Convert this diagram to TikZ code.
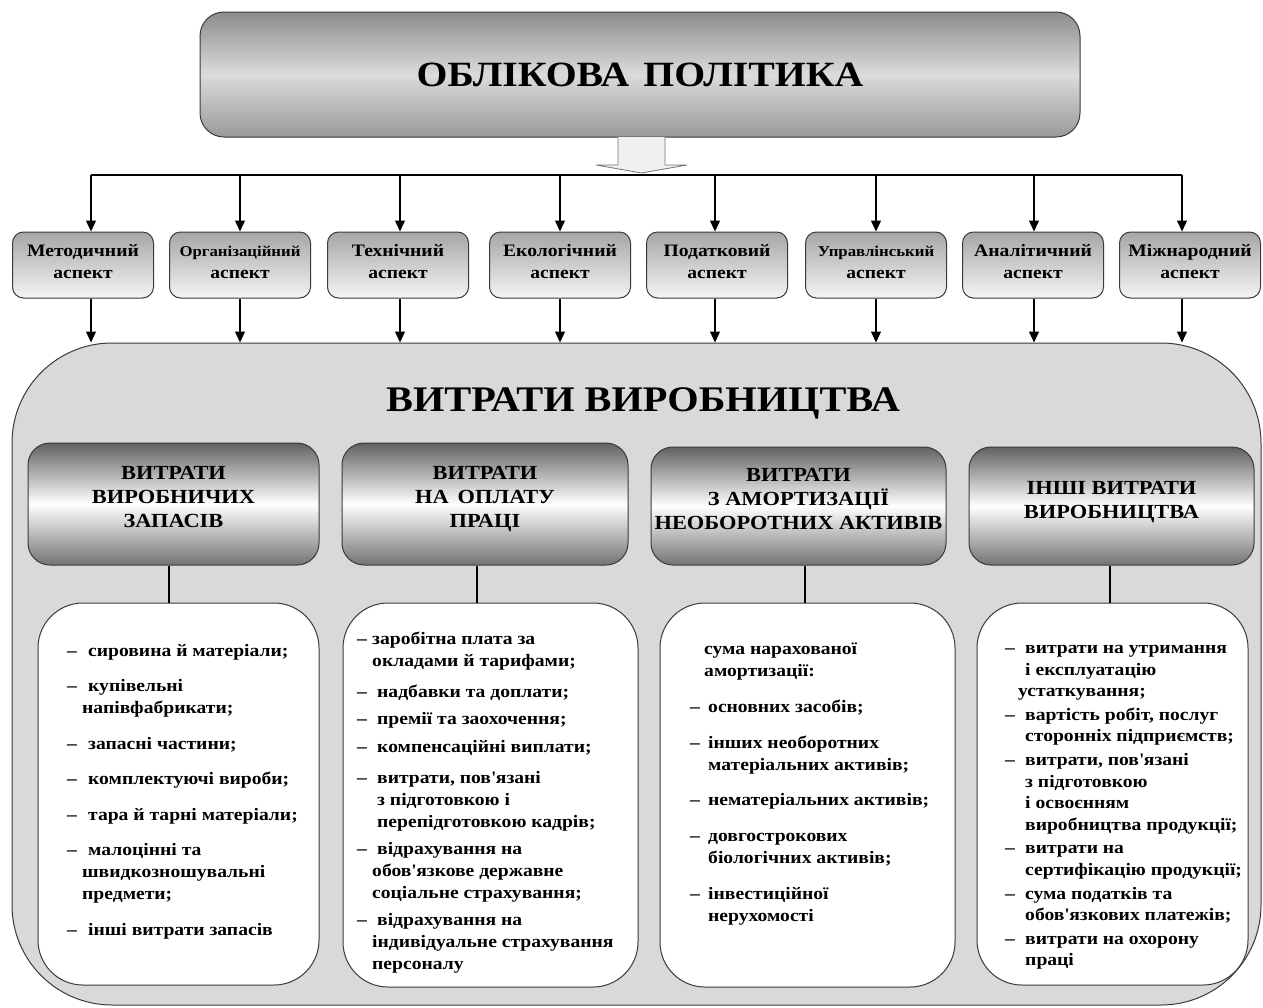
\documentclass[tikz,border=0pt]{standalone}
\usepackage{fontspec}
\setmainfont{Liberation Serif}[FakeStretch=1.12]
\usetikzlibrary{arrows.meta}
\definecolor{bigfill}{HTML}{D9D9D9}
\definecolor{edge}{HTML}{3A3A3A}
\definecolor{arrfill}{HTML}{F0F0F0}
% dash of a list item, and the indent of its next lines
\newcommand{\dd}[1]{\makebox[#1][l]{–}}
\newcommand{\ind}[1]{\hspace*{#1}}
\begin{document}
\begin{tikzpicture}[x=1pt, y=-1pt, line join=round, >={Triangle[width=10pt,length=11pt]},
	polbox/.style={draw=edge, line width=1pt, rounded corners=24pt, minimum width=880pt, minimum height=125pt,
		top color=black!45, bottom color=black!40, middle color=black!14, font=\fontsize{35.5}{40}\selectfont\bfseries},
	aspbox/.style={draw=edge, line width=1pt, rounded corners=11pt, minimum width=141pt, minimum height=66pt,
		top color=black!35, bottom color=black!4},
	asptxt/.style={align=center, inner sep=0pt, font=\fontsize{17.5}{22}\selectfont\bfseries},
	costbox/.style={draw=edge, line width=1pt, rounded corners=100pt, fill=bigfill},
	catbox/.style={draw=edge, line width=1pt, rounded corners=22pt, top color=black!62, bottom color=black!55, middle color=white},
	cattxt/.style={align=center, inner sep=0pt, font=\fontsize{20}{24}\selectfont\bfseries},
	listbox/.style={draw=edge, line width=1pt, rounded corners=45pt, fill=white},
	listtxt/.style={align=left, anchor=north west, inner sep=0pt, font=\fontsize{17.5}{22}\selectfont\bfseries},
	link/.style={line width=1.1pt}]
	\useasboundingbox (0,0) rectangle (1263,1007);
	% accounting policy and its aspects
	\node[polbox] (pol) at (640,74.5) {ОБЛІКОВА\hspace{14pt}ПОЛІТИКА};
	\coordinate (tip) at (641.5,173);
	\draw[draw=black!55, fill=arrfill, line width=0.8pt] (618,137) -- (618,165) -- (596,165) -- (tip) -- (687,165) -- (665,165) -- (665,137);
	\foreach \i/\ax in {1/91,2/240,3/400,4/560,5/715,6/876,7/1034,8/1182}
		\coordinate (a\i) at (\ax,175);
	\draw[link] (a1) -- (a8);
	\foreach \i/\cx/\txt in {1/83/{Методичний\\аспект}, 2/240/{\fontsize{15}{22}\selectfont Організаційний\\аспект},
		3/398/{Технічний\\аспект}, 4/560/{Екологічний\\аспект}, 5/717/{Податковий\\аспект},
		6/876/{\fontsize{15}{22}\selectfont Управлінський\\аспект}, 7/1033/{Аналітичний\\аспект}, 8/1190/{Міжнародний\\аспект}}{
		\node[aspbox] (asp\i) at (\cx,265) {};
		\node[asptxt] (asptxt\i) at ([yshift=3pt]asp\i.center) {\txt};}
	% production costs
	\node[costbox, minimum width=1249pt, minimum height=662pt] (cost) at (636.5,674) {};
	\node[font=\fontsize{36}{40}\selectfont\bfseries] (costtitle) at (643,403) {ВИТРАТИ ВИРОБНИЦТВА};
	\foreach \i in {1,...,8}{
		\draw[link,->] (a\i) -- (a\i |- asp\i.north);
		\draw[link,->] (a\i |- asp\i.south) -- (a\i |- cost.north);}
	\foreach \i/\cx/\cy/\w/\h in {1/173.5/504/291/122, 2/485/504/286/122, 3/798.5/506/295/118, 4/1111.5/506/285/118}
		\node[catbox, minimum width=\w pt, minimum height=\h pt] (cat\i) at (\cx,\cy) {};
	\node[cattxt] (cattxt1) at ([yshift=7pt]cat1.center) {ВИТРАТИ\\ВИРОБНИЧИХ\\ЗАПАСІВ};
	\node[cattxt] (cattxt2) at ([yshift=5pt]cat2.center) {ВИТРАТИ\\НА\hspace{9pt}ОПЛАТУ\\ПРАЦІ};
	\node[cattxt] (cattxt3) at ([yshift=7pt]cat3.center) {ВИТРАТИ\\З АМОРТИЗАЦІЇ\\НЕОБОРОТНИХ АКТИВІВ};
	\node[cattxt] (cattxt4) at ([yshift=4pt]cat4.center) {ІНШІ ВИТРАТИ\\ВИРОБНИЦТВА};
	\foreach \i/\cx/\cy/\w/\h in {1/178.5/794/281/382, 2/490.5/795/295/384, 3/807.5/795/295/384, 4/1112.5/794/271/382}
		\node[listbox, minimum width=\w pt, minimum height=\h pt] (list\i) at (\cx,\cy) {};
	\foreach \i/\vx in {1/169,2/477,3/805,4/1110}{
		\coordinate (v\i) at (\vx,0);
		\draw[link] (cat\i.south -| v\i) -- (list\i.north -| v\i);}
	% item lists
	\node[listtxt] (items1) at (67,644) {%
		\dd{21pt}сировина й матеріали;\\[13.5pt]
		\dd{21pt}купівельні\\
		\ind{15pt}напівфабрикати;\\[13.5pt]
		\dd{21pt}запасні частини;\\[13.5pt]
		\dd{21pt}комплектуючі вироби;\\[13.5pt]
		\dd{21pt}тара й тарні матеріали;\\[13.5pt]
		\dd{21pt}малоцінні та\\
		\ind{15pt}швидкозношувальні\\
		\ind{15pt}предмети;\\[13.5pt]
		\dd{21pt}інші витрати запасів};
	\node[listtxt] (items2) at (357,632) {%
		\dd{15pt}заробітна плата за\\
		\ind{15pt}окладами й тарифами;\\[9pt]
		\dd{20pt}надбавки та доплати;\\[5pt]
		\dd{20pt}премії та заохочення;\\[6pt]
		\dd{20pt}компенсаційні виплати;\\[9pt]
		\dd{20pt}витрати, пов\textquotesingle язані\\
		\ind{20pt}з підготовкою і\\
		\ind{20pt}перепідготовкою кадрів;\\[5pt]
		\dd{20pt}відрахування на\\
		\ind{15pt}обов\textquotesingle язкове державне\\
		\ind{15pt}соціальне страхування;\\[5pt]
		\dd{20pt}відрахування на\\
		\ind{15pt}індивідуальне страхування\\
		\ind{15pt}персоналу};
	\node[listtxt] (items3) at (690,643) {%
		\ind{14pt}сума нарахованої\\
		\ind{14pt}амортизації:\\[14pt]
		\dd{18pt}основних засобів;\\[14pt]
		\dd{18pt}інших необоротних\\
		\ind{18pt}матеріальних активів;\\[13pt]
		\dd{18pt}нематеріальних активів;\\[14pt]
		\dd{18pt}довгострокових\\
		\ind{18pt}біологічних активів;\\[14pt]
		\dd{18pt}інвестиційної\\
		\ind{18pt}нерухомості};
	\node[listtxt, font=\fontsize{17.5}{21.6}\selectfont\bfseries] (items4) at (1005,645) {%
		\dd{20pt}витрати на утримання\\
		\ind{20pt}і експлуатацію\\
		\ind{13pt}устаткування;\\[2pt]
		\dd{20pt}вартість робіт, послуг\\
		\ind{20pt}сторонніх підприємств;\\[2pt]
		\dd{20pt}витрати, пов\textquotesingle язані\\
		\ind{20pt}з підготовкою\\
		\ind{20pt}і освоєнням\\
		\ind{20pt}виробництва продукції;\\[2pt]
		\dd{20pt}витрати на\\
		\ind{20pt}сертифікацію продукції;\\[2pt]
		\dd{20pt}сума податків та\\
		\ind{20pt}обов\textquotesingle язкових платежів;\\[2pt]
		\dd{20pt}витрати на охорону\\
		\ind{20pt}праці};
\end{tikzpicture}
\end{document}
